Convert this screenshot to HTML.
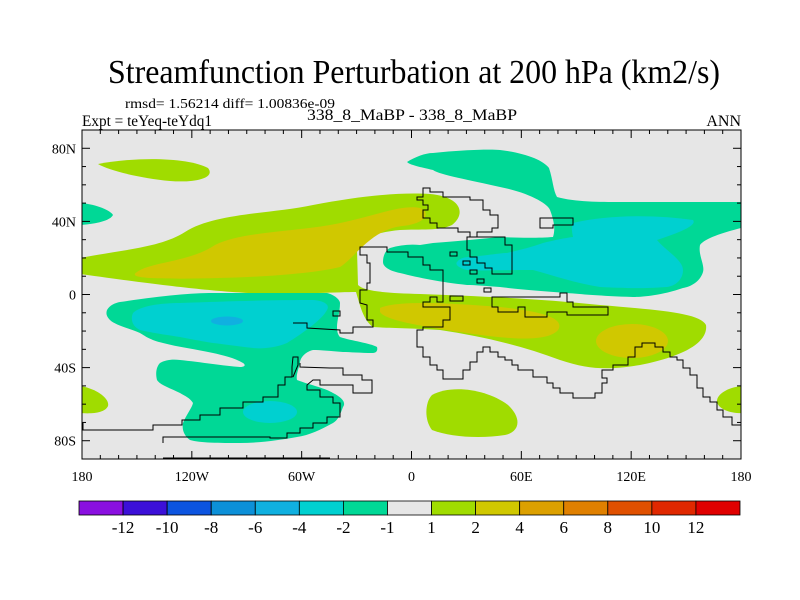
<!DOCTYPE html>
<html><head><meta charset="utf-8"><style>
html,body{margin:0;padding:0;background:#fff;}
svg{display:block;font-family:"Liberation Serif",serif;}
</style></head><body>
<svg width="800" height="600" viewBox="0 0 800 600">
<text x="414" y="83" font-size="34" text-anchor="middle" textLength="612" lengthAdjust="spacingAndGlyphs">Streamfunction Perturbation at 200 hPa (km2/s)</text>
<text x="125" y="108" font-size="14" textLength="210" lengthAdjust="spacingAndGlyphs">rmsd= 1.56214 diff= 1.00836e-09</text>
<text x="82" y="126" font-size="16" textLength="130" lengthAdjust="spacingAndGlyphs">Expt = teYeq-teYdq1</text>
<text x="307" y="120" font-size="16" textLength="210" lengthAdjust="spacingAndGlyphs">338_8_MaBP - 338_8_MaBP</text>
<text x="741" y="126" font-size="16" text-anchor="end">ANN</text>

<g>
<rect x="82" y="130" width="659" height="329" fill="#e6e6e6"/>
<clipPath id="pc"><rect x="82" y="130" width="659" height="329"/></clipPath>
<g clip-path="url(#pc)">
<!-- positive green -->
<path fill="#a0dc00" d="M98,164 C140,156 190,158 208,168 C216,178 195,183 170,181 C140,178 110,171 98,164Z"/>
<path fill="#a0dc00" d="M80,258 C120,250 160,248 185,232 C215,213 270,214 313,205 C360,196 400,192 430,194 C462,197 466,214 452,225 C440,231 420,229 400,230 C380,232 362,236 357,250 L358,285 C365,292 390,293 420,294 C470,296 533,298 600,305 C660,310 700,313 706,325 C708,340 690,355 640,365 C610,370 590,370 560,360 C520,345 480,336 440,330 C410,328 385,328 373,327 C363,320 360,305 356,292 C340,292 300,294 267,294 C220,292 180,288 80,274Z"/>
<path fill="#a0dc00" d="M432,395 C450,385 485,388 508,405 C522,418 520,432 505,435 C480,439 450,437 432,430 C424,420 425,402 432,395Z"/>
<path fill="#a0dc00" d="M80,386 C95,388 110,398 108,406 C105,413 92,414 80,413Z"/>
<path fill="#a0dc00" d="M745,386 C730,386 716,394 717,402 C719,410 732,414 745,413Z"/>
<!-- yellow -->
<path fill="#d0c800" d="M137,272 C150,262 190,262 215,245 C240,232 290,232 330,225 C370,218 400,204 420,208 C432,213 425,224 402,226 C370,230 355,258 340,267 C300,277 200,280 150,278 C135,277 132,275 137,272Z"/>
<path fill="#d0c800" d="M380,308 C395,301 440,302 500,307 C540,311 566,318 558,330 C548,342 510,340 460,332 C420,326 385,320 380,312Z"/>
<ellipse fill="#d0c800" cx="632" cy="341" rx="36" ry="17"/>
<!-- negative teal -->
<path fill="#00d896" d="M80,203 C95,204 110,210 113,215 C110,221 95,224 80,225Z"/>
<path fill="#00d896" d="M407,162 C415,157 425,153 433,153 C460,150 490,149 500,150 C525,153 543,160 549,168 C553,180 553,190 557,197 C575,202 600,202 620,202 L745,202 L745,227 C725,232 705,238 700,245 C698,255 705,265 703,272 C700,282 690,287 683,288 C660,296 640,297 633,297 C600,296 580,294 567,293 C540,291 515,289 500,287 C485,286 475,285 467,285 C440,282 420,278 400,273 C390,271 383,267 383,262 C383,255 386,250 390,248 C400,245 410,244 420,245 L433,243 C460,241 480,239 500,237 C520,238 540,238 553,237 C556,228 553,218 550,210 C548,204 530,193 500,187 C470,180 440,175 433,170 C420,167 410,165 407,162Z"/>
<path fill="#00d896" d="M107,310 C110,305 115,303 120,302 C160,296 190,293 213,293 L327,293 C335,295 340,300 340,303 C340,312 337,320 337,327 C337,332 338,335 340,337 C352,341 370,343 377,347 C378,351 376,353 373,353 C360,353 350,352 343,352 C330,351 320,350 313,350 C305,352 300,358 300,363 C298,370 296,376 297,380 C310,385 325,388 333,393 C343,398 346,403 343,407 C340,415 338,420 333,423 C320,430 310,435 297,437 C280,440 260,443 240,443 C220,443 200,443 190,440 C183,435 182,428 183,423 C186,415 192,408 193,403 C190,398 185,396 180,393 C170,388 160,385 157,380 C155,372 157,366 160,363 C165,360 172,359 180,360 C200,362 225,366 240,367 C245,367 246,365 243,363 C235,358 222,355 213,353 C195,349 178,347 163,343 C150,340 145,336 140,333 C128,328 115,325 110,320 C106,316 106,313 107,310Z"/>
<!-- cyan -->
<path fill="#00d0d0" d="M133,313 C140,306 160,303 180,303 C230,301 280,300 313,300 C325,301 330,305 327,310 C322,320 300,335 287,343 C275,348 262,349 253,348 C235,346 222,344 213,343 C195,340 190,339 180,337 C160,334 148,332 140,330 C133,327 130,320 133,313Z"/>
<ellipse fill="#10b0e0" cx="227" cy="321" rx="16" ry="4.5"/>
<ellipse fill="#00d0d0" cx="270" cy="412" rx="27" ry="11"/>
<path fill="#00d0d0" d="M573,223 C610,214 660,215 693,220 C698,226 675,234 657,240 C665,250 683,260 683,270 C683,280 675,286 667,287 C640,289 620,288 600,287 C575,283 555,276 533,270 C505,270 480,271 467,270 C458,268 455,264 457,262 C460,258 465,257 470,257 C490,255 500,253 507,253 C520,250 532,247 543,243 C555,240 565,238 573,237 C572,232 571,227 573,223Z"/>
</g>

<!-- coastlines -->
<g fill="none" stroke="#000" stroke-width="1">
<polyline points="83,423 83,430 153,430 153,425 182,425 182,420 200,420 200,415 220,415 220,408 243,408 243,402 263,402 263,397 278,397 278,385 285,385 285,377 292,377 292,367 293,357 298,357 298,365 293,377"/>
<polyline points="163,443 163,437 240,437 270,437 270,438 287,438 287,433 300,433 300,428 313,428 313,423 327,423 327,417 340,417 340,403 333,403 333,397 320,397 320,390 307,390 307,385 313,380 320,380 320,385 353,385 353,393 372,393 372,380 362,380 362,375 343,375 343,368 330,368 300,367 300,363"/>
<polyline points="293,323 307,323 307,328 340,330 340,333 353,333 353,327 373,327 373,320 367,320 367,305 360,303 360,290 367,290 367,283 370,283 370,263 367,263 367,255 360,255 360,247 387,247 387,252 400,252 408,252 408,257 423,257 423,265 430,265 430,270 443,270 443,302 437,302 437,297 430,297 430,302 423,302 423,307 450,307 450,320 443,320 443,327 423,327 423,330 417,330 417,347 423,347 423,357 430,357 430,365 437,365 437,370 443,370 443,379 463,379 463,370 470,370 470,362 477,362 477,352 483,352 483,347 490,347 490,352 498,352 498,357 505,357 505,360 512,360 512,365 518,365 518,370 533,370 533,377 547,377 547,383 553,383 553,388 560,388 560,393 573,393 573,398 595,398 595,393 602,393 602,383 607,383 607,378 602,378 602,370 613,370 613,365 628,365 628,357 635,357 635,347 642,347 642,343 655,343 655,347 663,347 663,352 670,352 670,357 677,357 677,360 683,360 683,368 690,368 690,375 697,375 697,388 703,388 703,397 710,397 710,402 717,402 717,410 723,410 723,417 732,417 732,425 741,425"/>
<polygon points="423,188 430,188 430,192 443,192 443,197 470,197 470,200 483,200 483,210 490,210 490,215 498,215 498,228 492,228 492,232 477,232 477,237 470,237 470,232 458,232 458,228 437,228 437,223 430,223 430,218 423,218 423,210 428,210 428,205 423,205 423,200 417,200 417,197 423,197"/>
<polygon points="540,218 573,218 573,225 553,225 553,228 540,228"/>
<polygon points="492,297 560,297 560,293 567,293 567,302 573,302 573,307 608,307 608,315 567,315 567,312 547,312 547,317 525,317 525,307 518,307 518,312 498,312 498,307 492,307"/>
<polygon points="467,237 505,237 505,245 512,245 512,274 492,274 492,268 485,268 485,263 477,263 477,257 470,257 470,250 467,250"/>
<rect x="450" y="252" width="7" height="4"/>
<rect x="463" y="261" width="7" height="4"/>
<rect x="470" y="270" width="7" height="4"/>
<rect x="477" y="279" width="7" height="4"/>
<rect x="484" y="288" width="7" height="4"/>
<rect x="450" y="296" width="13" height="5"/>
<rect x="333" y="311" width="7" height="5"/>
<polyline points="163,458 330,458"/>
</g>
<rect x="82" y="130" width="659" height="329" fill="none" stroke="#000" stroke-width="1"/>
<g id="ticks"></g>
<g id="xlabels" font-size="14" text-anchor="middle"></g>
<g id="ylabels" font-size="14" text-anchor="end"></g>
</g>

<g id="colorbar"></g>
</svg>
<script>
const levels = [-12,-10,-8,-6,-4,-2,-1,1,2,4,6,8,10,12];
const colors = ["#8a10e0","#3c10d8","#0c54e0","#0c90d8","#10b0e0","#00d0d0","#00d896","#e6e6e6","#a0dc00","#d0c800","#dca000","#e08000","#e05000","#e02800","#e00000"];
const xTickLabels = ["180","120W","60W","0","60E","120E","180"];
const xTickLons = [-180,-120,-60,0,60,120,180];
const yTickLabels = ["80N","40N","0","40S","80S"];
const yTickLats = [80,40,0,-40,-80];
const NS = "http://www.w3.org/2000/svg";
const X0=82,X1=741,Y0=130,Y1=459;
function xs(lon){return X0+(lon+180)/360*(X1-X0);}
function ys(lat){return Y0+(90-lat)/180*(Y1-Y0);}
function mk(tag,attrs,parent){const e=document.createElementNS(NS,tag);for(const k in attrs)e.setAttribute(k,attrs[k]);parent.appendChild(e);return e;}
const tg=document.getElementById('ticks');
for(let lon=-170;lon<180;lon+=10){
  const major=xTickLons.includes(lon);const L=major?8:4;const x=xs(lon);
  const t1=mk('line',{x1:x,y1:Y0,x2:x,y2:Y0+L,stroke:'#000'},tg);
  
  
  const t2=mk('line',{x1:x,y1:Y1,x2:x,y2:Y1-L,stroke:'#000'},tg);
  
  
}
for(let lat=-80;lat<=80;lat+=10){
  const major=yTickLats.includes(lat);const L=major?8:4;const y=ys(lat);
  const t1=mk('line',{x1:X0,y1:y,x2:X0+L,y2:y,stroke:'#000'},tg);
  
  
  const t2=mk('line',{x1:X1,y1:y,x2:X1-L,y2:y,stroke:'#000'},tg);
  
  
}
const xl=document.getElementById('xlabels');
xTickLabels.forEach((s,i)=>{const t=mk('text',{x:xs(xTickLons[i]),y:481},xl);t.textContent=s;
  
  });
const yl=document.getElementById('ylabels');
yTickLabels.forEach((s,i)=>{const t=mk('text',{x:76,y:ys(yTickLats[i])+5},yl);t.textContent=s;
  
  });
const cb=document.getElementById('colorbar');
const CB0=79,CB1=740,CBY=501,CBH=14;const bw=(CB1-CB0)/colors.length;
colors.forEach((c,i)=>{const r=mk('rect',{x:CB0+i*bw,y:CBY,width:bw,height:CBH,fill:c,stroke:'#000','stroke-width':0.8},cb);
  
  });
levels.forEach((v,i)=>{const t=mk('text',{x:CB0+(i+1)*bw,y:533,'font-size':17,'text-anchor':'middle'},cb);t.textContent=String(v);
  
  });
</script>
</body></html>
